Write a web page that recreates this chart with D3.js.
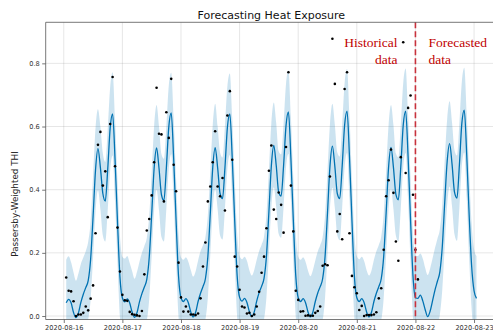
<!DOCTYPE html>
<html>
<head>
<meta charset="utf-8">
<script src="https://cdn.jsdelivr.net/npm/d3@7"></script>
<style>
  body { margin: 0; background: #fff; }
  svg { display: block; font-family: "DejaVu Sans", sans-serif; }
</style>
</head>
<body>
<div id="chart"></div>
<script>
// All series are hourly, counted in hours from 2020-08-16 00:00 (UTC)
const seriesOrigin = "2020-08-16T00:00:00Z";

// observed THI, hours 1..145 (one row per day)
const observedStartHour = 1;
const observed = [
  0.122, 0.080, 0.078, 0.047, 0.000, 0.005, 0.005, 0.010, 0.030, 0.018, 0.055, 0.097, 0.262, 0.542, 0.583, 0.413, 0.458, 0.313, 0.608, 0.757, 0.474, 0.280, 0.141,
  0.067, 0.050, 0.048, 0.013, 0.006, 0.004, 0.002, 0.000, 0.016, 0.132, 0.271, 0.307, 0.382, 0.487, 0.723, 0.577, 0.575, 0.363, 0.645, 0.564, 0.751, 0.479, 0.395, 0.169,
  0.059, 0.014, 0.030, 0.014, 0.005, 0.005, 0.003, 0.008, 0.056, 0.157, 0.233, 0.363, 0.410, 0.487, 0.585, 0.410, 0.379, 0.437, 0.334, 0.635, 0.712, 0.495, 0.188, 0.157,
  0.083, 0.030, 0.027, 0.008, 0.010, 0.000, 0.005, 0.030, 0.077, 0.137, 0.188, 0.278, 0.460, 0.540, 0.337, 0.307, 0.391, 0.352, 0.264, 0.535, 0.772, 0.413, 0.268, 0.080,
  0.051, 0.014, 0.015, 0.001, 0.002, 0.001, 0.001, 0.010, 0.016, 0.030, 0.159, 0.164, 0.161, 0.442, 0.878, 0.735, 0.268, 0.323, 0.243, 0.719, 0.772, 0.262, 0.127, 0.091,
  0.072, 0.019, 0.032, 0.000, 0.003, 0.003, 0.003, 0.005, 0.012, 0.056, 0.088, 0.210, 0.379, 0.430, 0.527, 0.390, 0.236, 0.175, 0.503, 0.867, 0.453, 0.659, 0.698, 0.384,
  0.210, 0.116
];

// model forecast, hours 1..169
const forecastStartHour = 1;
const yhat = [
  0.042, 0.053, 0.042, 0.011, -0.005, 0.010, 0.043, 0.069, 0.090, 0.112, 0.180, 0.315, 0.462, 0.530, 0.470, 0.388, 0.364, 0.465, 0.595, 0.640, 0.495, 0.298, 0.124,
  0.057, 0.045, 0.054, 0.041, 0.012, -0.004, 0.011, 0.045, 0.071, 0.092, 0.116, 0.186, 0.322, 0.468, 0.532, 0.468, 0.384, 0.366, 0.468, 0.598, 0.643, 0.498, 0.300, 0.126,
  0.058, 0.046, 0.055, 0.042, 0.013, -0.003, 0.012, 0.046, 0.072, 0.093, 0.118, 0.188, 0.325, 0.470, 0.533, 0.470, 0.388, 0.372, 0.470, 0.597, 0.640, 0.497, 0.301, 0.127,
  0.059, 0.047, 0.056, 0.043, 0.014, -0.002, 0.013, 0.047, 0.074, 0.094, 0.119, 0.190, 0.330, 0.476, 0.540, 0.476, 0.392, 0.380, 0.475, 0.602, 0.646, 0.500, 0.303, 0.128,
  0.058, 0.046, 0.055, 0.042, 0.013, -0.003, 0.012, 0.046, 0.073, 0.093, 0.118, 0.189, 0.328, 0.474, 0.538, 0.474, 0.388, 0.372, 0.474, 0.604, 0.649, 0.503, 0.304, 0.127,
  0.058, 0.046, 0.055, 0.042, 0.013, -0.003, 0.012, 0.046, 0.072, 0.093, 0.118, 0.188, 0.326, 0.471, 0.534, 0.470, 0.385, 0.368, 0.472, 0.604, 0.649, 0.503, 0.304, 0.127,
  0.058, 0.056, 0.066, 0.048, 0.020, -0.002, 0.015, 0.048, 0.082, 0.110, 0.140, 0.220, 0.360, 0.490, 0.546, 0.480, 0.392, 0.373, 0.478, 0.610, 0.652, 0.510, 0.320, 0.160,
  0.080, 0.056
];
const yhatUpper = [
  0.178, 0.189, 0.170, 0.138, 0.112, 0.135, 0.165, 0.185, 0.205, 0.235, 0.300, 0.445, 0.595, 0.655, 0.600, 0.515, 0.488, 0.592, 0.725, 0.772, 0.625, 0.428, 0.255,
  0.188, 0.182, 0.190, 0.168, 0.142, 0.118, 0.140, 0.172, 0.200, 0.222, 0.248, 0.318, 0.455, 0.602, 0.668, 0.600, 0.512, 0.498, 0.600, 0.730, 0.770, 0.630, 0.432, 0.258,
  0.186, 0.178, 0.186, 0.172, 0.146, 0.125, 0.142, 0.176, 0.205, 0.224, 0.250, 0.320, 0.458, 0.605, 0.672, 0.602, 0.518, 0.502, 0.604, 0.728, 0.768, 0.628, 0.435, 0.262,
  0.190, 0.180, 0.188, 0.175, 0.145, 0.128, 0.146, 0.178, 0.206, 0.226, 0.252, 0.322, 0.462, 0.612, 0.676, 0.610, 0.522, 0.512, 0.608, 0.735, 0.778, 0.632, 0.436, 0.262,
  0.188, 0.178, 0.186, 0.172, 0.144, 0.126, 0.145, 0.176, 0.204, 0.224, 0.250, 0.320, 0.460, 0.608, 0.672, 0.606, 0.518, 0.505, 0.606, 0.738, 0.782, 0.636, 0.438, 0.260,
  0.190, 0.180, 0.188, 0.174, 0.145, 0.128, 0.144, 0.178, 0.205, 0.225, 0.252, 0.322, 0.460, 0.605, 0.668, 0.604, 0.515, 0.502, 0.606, 0.738, 0.784, 0.638, 0.440, 0.262,
  0.192, 0.190, 0.198, 0.182, 0.152, 0.130, 0.150, 0.182, 0.215, 0.245, 0.275, 0.355, 0.495, 0.625, 0.680, 0.612, 0.525, 0.508, 0.612, 0.742, 0.786, 0.645, 0.455, 0.295,
  0.212, 0.190
];
const yhatLower = [
  -0.092, -0.082, -0.088, -0.118, -0.128, -0.116, -0.086, -0.060, -0.040, -0.012, 0.052, 0.185, 0.330, 0.398, 0.338, 0.255, 0.236, 0.334, 0.462, 0.508, 0.362, 0.168, -0.006,
  -0.076, -0.088, -0.080, -0.092, -0.120, -0.132, -0.118, -0.085, -0.058, -0.040, -0.015, 0.055, 0.190, 0.335, 0.400, 0.335, 0.250, 0.236, 0.338, 0.466, 0.512, 0.366, 0.170, -0.005,
  -0.074, -0.086, -0.078, -0.090, -0.118, -0.130, -0.116, -0.084, -0.058, -0.038, -0.012, 0.058, 0.195, 0.338, 0.402, 0.338, 0.255, 0.242, 0.340, 0.466, 0.510, 0.366, 0.170, -0.004,
  -0.072, -0.084, -0.076, -0.088, -0.116, -0.128, -0.114, -0.082, -0.056, -0.036, -0.012, 0.060, 0.198, 0.344, 0.408, 0.344, 0.260, 0.248, 0.344, 0.470, 0.514, 0.368, 0.172, -0.004,
  -0.074, -0.086, -0.078, -0.090, -0.118, -0.130, -0.118, -0.084, -0.058, -0.038, -0.014, 0.058, 0.196, 0.342, 0.406, 0.342, 0.256, 0.240, 0.342, 0.470, 0.516, 0.370, 0.172, -0.006,
  -0.074, -0.086, -0.078, -0.090, -0.118, -0.130, -0.118, -0.086, -0.060, -0.040, -0.014, 0.056, 0.194, 0.338, 0.402, 0.338, 0.254, 0.236, 0.340, 0.470, 0.516, 0.370, 0.170, -0.006,
  -0.078, -0.080, -0.068, -0.086, -0.114, -0.134, -0.120, -0.088, -0.054, -0.026, 0.004, 0.084, 0.222, 0.352, 0.410, 0.346, 0.258, 0.238, 0.342, 0.475, 0.518, 0.372, 0.182, 0.024,
  -0.056, -0.080
];

const dayTicks = ["2020-08-16", "2020-08-17", "2020-08-18", "2020-08-19", "2020-08-20", "2020-08-21", "2020-08-22", "2020-08-23"];
const yTicks = [0.0, 0.2, 0.4, 0.6, 0.8];
const splitDay = "2020-08-22";
const titleText = "Forecasting Heat Exposure";
const yLabelText = "Passersby-Weighted THI";
const historyLabel = ["Historical", "data"];
const forecastLabel = ["Forecasted", "data"];

const W = 493, H = 333;
const plot = { left: 45.7, right: 497, top: 22.3, bottom: 319.5 };

const origin = new Date(seriesOrigin);
const atHour = h => d3.utcHour.offset(origin, h);
const parseDay = d3.utcParse("%Y-%m-%d");

const svg = d3.select("#chart").append("svg")
  .attr("width", W).attr("height", H);

svg.append("rect").attr("width", W).attr("height", H).attr("fill", "#fff");

// x domain: data range padded by 5% on each side (matplotlib style)
const firstT = atHour(forecastStartHour), lastT = atHour(forecastStartHour + yhat.length - 1);
const pad = (lastT - firstT) * 0.05;
const x = d3.scaleUtc()
  .domain([new Date(+firstT - pad), new Date(+lastT + pad)])
  .range([plot.left, plot.right]);

const y = d3.scaleLinear()
  .domain([-0.011, 0.93])
  .range([plot.bottom, plot.top]);

svg.append("defs").append("clipPath").attr("id", "plotclip")
  .append("rect")
  .attr("x", plot.left).attr("y", plot.top)
  .attr("width", plot.right - plot.left).attr("height", plot.bottom - plot.top);

// grid
const grid = svg.append("g").attr("stroke", "#808080").attr("stroke-opacity", 0.2).attr("stroke-width", 1);
grid.selectAll("line.gx").data(dayTicks).join("line")
  .attr("x1", d => x(parseDay(d))).attr("x2", d => x(parseDay(d)))
  .attr("y1", plot.top).attr("y2", plot.bottom);
grid.selectAll("line.gy").data(yTicks).join("line")
  .attr("x1", plot.left).attr("x2", plot.right)
  .attr("y1", d => y(d)).attr("y2", d => y(d));

const fc = yhat.map((v, i) => ({ t: atHour(forecastStartHour + i), v, lo: yhatLower[i], hi: yhatUpper[i] }));
const obs = observed.map((v, i) => ({ t: atHour(observedStartHour + i), v }));

const g = svg.append("g").attr("clip-path", "url(#plotclip)");

// uncertainty band
g.append("path").datum(fc)
  .attr("fill", "#0072B2").attr("fill-opacity", 0.2)
  .attr("d", d3.area().x(d => x(d.t)).y0(d => y(d.lo)).y1(d => y(d.hi)).curve(d3.curveMonotoneX));

// forecast line
g.append("path").datum(fc)
  .attr("fill", "none").attr("stroke", "#0072B2").attr("stroke-width", 1.3)
  .attr("d", d3.line().x(d => x(d.t)).y(d => y(d.v)).curve(d3.curveMonotoneX));

// observations
g.selectAll("circle").data(obs).join("circle")
  .attr("cx", d => x(d.t)).attr("cy", d => y(d.v)).attr("r", 1.3).attr("fill", "#000");

// split marker
const sx = x(parseDay(splitDay));
svg.append("line")
  .attr("x1", sx).attr("x2", sx).attr("y1", plot.top).attr("y2", plot.bottom)
  .attr("stroke", "#c8323c").attr("stroke-width", 1.6).attr("stroke-dasharray", "6,3");

// axes
const xAxis = svg.append("g").attr("transform", `translate(0,${plot.bottom})`)
  .call(d3.axisBottom(x).tickValues(dayTicks.map(parseDay)).tickFormat(d3.utcFormat("%Y-%m-%d")).tickSize(3.5).tickPadding(2));
const yAxis = svg.append("g").attr("transform", `translate(${plot.left},0)`)
  .call(d3.axisLeft(y).tickValues(yTicks).tickFormat(d3.format(".1f")).tickSize(3.5).tickPadding(2.5));
[xAxis, yAxis].forEach(a => {
  a.select(".domain").remove();
  a.selectAll(".tick line").attr("stroke", "#555").attr("stroke-width", 0.8);
  a.selectAll(".tick text").attr("fill", "#333").style("font-size", "6.6px").style("font-family", "DejaVu Sans");
});

// spines (left, top, bottom)
svg.append("path")
  .attr("d", `M${plot.right},${plot.top}H${plot.left}V${plot.bottom}H${plot.right}`)
  .attr("fill", "none").attr("stroke", "#555").attr("stroke-width", 0.8);

// title and y label
svg.append("text")
  .attr("x", (plot.left + plot.right) / 2).attr("y", 19)
  .attr("text-anchor", "middle").style("font-size", "11px").attr("fill", "#111")
  .text(titleText);

svg.append("text")
  .attr("transform", "translate(18,204) rotate(-90)")
  .attr("text-anchor", "middle").style("font-size", "8.8px").attr("fill", "#222")
  .text(yLabelText);

// annotations
const ann = svg.append("g")
  .style("font-family", "'Liberation Serif', 'Times New Roman', serif")
  .style("font-size", "13.5px").attr("fill", "#c00000");
ann.selectAll("text.h").data(historyLabel).join("text")
  .attr("x", sx - 18).attr("y", (d, i) => 47 + i * 16.5)
  .attr("text-anchor", "end").text(d => d);
ann.selectAll("text.f").data(forecastLabel).join("text")
  .attr("x", sx + 13).attr("y", (d, i) => 47 + i * 16.5)
  .attr("text-anchor", "start").text(d => d);
</script>
</body>
</html>
